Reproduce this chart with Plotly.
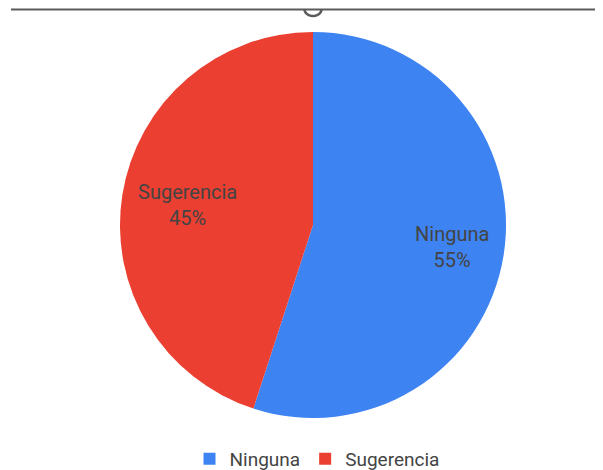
import math
import plotly.graph_objects as go

labels = ["Ninguna", "Sugerencia"]
values = [55, 45]
colors = ["#3e83f2", "#ea3f31"]
label_radius = [0.73, 0.66]   # fraction of pie radius where slice labels sit

W, H = 603, 470
OFF = 8  # page body margin


def px(x):
    return (x - OFF) / W


def py(y):
    return 1 - (y - OFF) / H


# pie geometry (in page pixels)
CX, CY, R = 313, 225, 193

fig = go.Figure()
fig.add_trace(go.Pie(
    labels=labels,
    values=values,
    sort=False,
    direction="clockwise",
    rotation=0,
    marker=dict(colors=colors, line=dict(width=0)),
    textinfo="none",
    domain=dict(x=[px(CX - R), px(CX + R)], y=[py(CY + R), py(CY - R)]),
    hoverinfo="label+percent",
))

# slice labels placed at the angular middle of each slice
total = sum(values)
cum = 0
for lab, v, rf in zip(labels, values, label_radius):
    mid = (cum + v / 2) / total * 2 * math.pi
    cum += v
    lx = CX + rf * R * math.sin(mid)
    ly = CY - rf * R * math.cos(mid)
    fig.add_annotation(
        x=px(lx), y=py(ly), xref="paper", yref="paper",
        xanchor="center", yanchor="middle",
        text=f"{lab}<br>{round(v / total * 100)}%",
        showarrow=False, align="center",
        font=dict(family="Roboto, Arial, sans-serif", size=20, color="#444444"),
    )

# top rule with small handle
fig.add_shape(type="line", xref="paper", yref="paper",
              x0=px(11), x1=1, y0=py(9.5), y1=py(9.5),
              line=dict(color="#5a5a5a", width=2))
pts = []
for i in range(13):
    a = math.pi * i / 12
    pts.append((313 - 8.5 * math.cos(a), 9.5 + 6.5 * math.sin(a)))
path = "M " + " L ".join(f"{px(x):.5f},{py(y):.5f}" for x, y in pts)
fig.add_shape(type="path", xref="paper", yref="paper", path=path,
              line=dict(color="#5a5a5a", width=2.5))

fig.update_layout(
    width=W, height=H,
    margin=dict(l=0, r=0, t=0, b=0),
    paper_bgcolor="white",
    plot_bgcolor="white",
    showlegend=True,
    legend=dict(orientation="h", x=px(317), xanchor="center", y=py(459), yanchor="middle",
                font=dict(family="Roboto, Arial, sans-serif", size=19, color="#444444"),
                itemwidth=30, traceorder="normal"),
)

fig.write_html("out.html")
